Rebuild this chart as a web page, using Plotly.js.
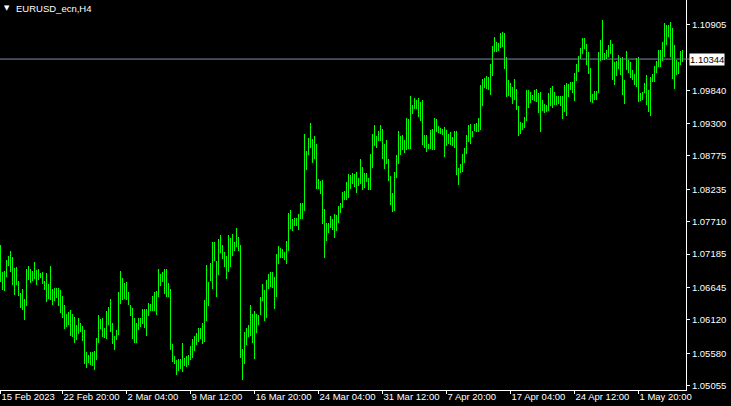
<!DOCTYPE html>
<html>
<head>
<meta charset="utf-8">
<script src="https://cdn.plot.ly/plotly-3.0.1.min.js"></script>
<style>
  html, body { margin: 0; padding: 0; background: #000; }
  #chart { width: 731px; height: 406px; }
</style>
</head>
<body>
<div id="chart"></div>
<script>
// ---- data (EURUSD_ecn, H4 bars: high / low) ----
const symbol = "EURUSD_ecn,H4";
const currentPrice = 1.10344;

const highs = [
  1.07333,1.06890,1.06912,1.07090,1.07155,1.07236,1.07139,1.06966,1.06977,1.06750,
  1.06555,1.06620,1.06458,1.06944,1.06993,1.06944,1.06917,1.07052,1.06928,1.06944,
  1.06879,1.06890,1.06750,1.06879,1.06701,1.06993,1.06620,1.06631,1.06636,1.06636,
  1.06604,1.06507,1.06361,1.06221,1.06242,1.06280,1.06215,1.06167,1.06037,1.06150,
  1.06069,1.06015,1.05956,1.05600,1.05551,1.05600,1.05605,1.05621,1.05826,1.06199,
  1.06134,1.06150,1.05988,1.06264,1.06329,1.06458,1.06069,1.05864,1.05956,1.06572,
  1.06912,1.06798,1.06712,1.06739,1.06572,1.06361,1.06312,1.06150,1.06064,1.06150,

  1.06156,1.06296,1.06296,1.06296,1.06393,1.06377,1.06507,1.06572,1.06588,1.06944,
  1.06863,1.06896,1.06944,1.06944,1.06717,1.06620,1.05735,1.05535,1.05470,1.05486,
  1.05486,1.05745,1.05502,1.05535,1.05551,1.05697,1.05810,1.05859,1.05907,1.05988,
  1.05988,1.06069,1.06442,1.07009,1.06734,1.07041,1.07382,1.07382,1.07074,1.07430,
  1.07495,1.07333,1.07220,1.07155,1.07495,1.07446,1.07511,1.07382,1.07608,1.07463,
  1.07333,1.05648,1.05924,1.05988,1.06037,1.06361,1.06215,1.06264,1.06215,1.06199,
  1.06491,1.06701,1.06604,1.06766,1.06863,1.06896,1.06896,1.06815,1.07187,1.07317,

  1.07285,1.07269,1.07220,1.07398,1.07856,1.07899,1.07753,1.07769,1.07769,1.07834,
  1.08018,1.08018,1.09130,1.08855,1.09065,1.09308,1.09049,1.09098,1.08968,1.08401,
  1.08369,1.08385,1.07915,1.07688,1.07694,1.07802,1.07753,1.07834,1.07818,1.07964,
  1.08012,1.08196,1.08207,1.08353,1.08482,1.08466,1.08498,1.08482,1.08515,1.08417,
  1.08725,1.08596,1.08498,1.08498,1.08417,1.08806,1.09130,1.09276,1.09098,1.09179,
  1.09276,1.09211,1.08968,1.09033,1.08725,1.08450,1.08174,1.08515,1.08790,1.09179,
  1.09098,1.09114,1.09033,1.09389,1.09373,1.09746,1.09600,1.09713,1.09681,1.09713,

  1.09648,1.09680,1.09113,1.09113,1.08967,1.09194,1.09210,1.09388,1.09372,1.09259,
  1.09226,1.09210,1.09243,1.09194,1.09129,1.09162,1.09081,1.09178,1.09178,1.08584,
  1.08649,1.08811,1.08908,1.09113,1.09275,1.09291,1.09178,1.09291,1.09307,1.09388,
  1.09923,1.10020,1.10036,1.10069,1.10053,1.10263,1.10555,1.10701,1.10620,1.10603,
  1.10765,1.10782,1.10765,1.10377,1.10004,1.09955,1.09891,1.10020,1.09858,1.09583,
  1.09324,1.09307,1.09405,1.09842,1.09842,1.09810,1.09761,1.09842,1.09858,1.09793,
  1.09810,1.09680,1.09615,1.09599,1.09793,1.09874,1.09907,1.09810,1.09745,1.09745,

  1.09745,1.09745,1.09923,1.09955,1.09939,1.09972,1.09972,1.10117,1.10263,1.10393,
  1.10522,1.10684,1.10684,1.10587,1.10458,1.10198,1.09777,1.09826,1.09826,1.10458,
  1.10652,1.10976,1.10441,1.10490,1.10571,1.10652,1.10587,1.10296,1.10312,1.10409,
  1.10360,1.10377,1.10004,1.10474,1.10328,1.10296,1.10166,1.10101,1.10360,1.10377,
  1.09793,1.09810,1.09955,1.10085,1.09842,1.10053,1.10101,1.10231,1.10312,1.10490,
  1.10490,1.10620,1.10927,1.10895,1.10895,1.10944,1.10846,1.10571,1.10328,1.10296,
  1.10474,1.10490
];

const lows = [
  1.06739,1.06604,1.06593,1.06820,1.06998,1.06890,1.06685,1.06523,1.06685,1.06507,
  1.06318,1.06280,1.06118,1.06350,1.06766,1.06723,1.06755,1.06782,1.06685,1.06766,
  1.06804,1.06701,1.06604,1.06415,1.06453,1.06437,1.06366,1.06431,1.06469,1.06350,
  1.06226,1.06156,1.05972,1.06005,1.06037,1.05864,1.05848,1.05751,1.05794,1.05891,
  1.05918,1.05772,1.05405,1.05346,1.05416,1.05389,1.05373,1.05308,1.05470,1.05751,
  1.05972,1.05837,1.05821,1.05805,1.06042,1.05929,1.05724,1.05632,1.05799,1.05875,
  1.06377,1.06447,1.06464,1.06437,1.06361,1.06183,1.05810,1.05751,1.05751,1.05951,

  1.06010,1.06053,1.05994,1.05864,1.06188,1.06264,1.06264,1.06264,1.06204,1.06496,
  1.06674,1.06739,1.06545,1.06496,1.06496,1.05637,1.05443,1.05411,1.05232,1.05297,
  1.05330,1.05281,1.05378,1.05362,1.05389,1.05475,1.05508,1.05621,1.05718,1.05767,
  1.05810,1.05735,1.05767,1.06107,1.06350,1.06750,1.06626,1.07079,1.06496,1.06852,
  1.07209,1.07112,1.06982,1.06788,1.06901,1.06982,1.07160,1.07241,1.07306,1.07241,
  1.05508,1.05151,1.05411,1.05718,1.05848,1.05864,1.05751,1.05492,1.05913,1.06042,
  1.06199,1.06431,1.06107,1.06156,1.06626,1.06658,1.06642,1.06302,1.06496,1.07025,

  1.07123,1.07123,1.07091,1.07026,1.07236,1.07597,1.07564,1.07645,1.07645,1.07580,
  1.07759,1.07759,1.07888,1.08552,1.08795,1.08903,1.08666,1.08725,1.08245,1.08245,
  1.08164,1.07678,1.07123,1.07402,1.07532,1.07602,1.07580,1.07451,1.07559,1.07694,
  1.07856,1.07937,1.08066,1.08066,1.08099,1.08245,1.08326,1.08277,1.08180,1.08293,
  1.08326,1.08228,1.08261,1.08358,1.08228,1.08228,1.08585,1.08936,1.08898,1.09017,
  1.09022,1.08731,1.08569,1.08644,1.08374,1.07980,1.07872,1.07888,1.08423,1.08644,
  1.08790,1.08871,1.08828,1.08871,1.08887,1.08893,1.09454,1.09535,1.09535,1.09406,

  1.09345,1.08956,1.08908,1.08843,1.08892,1.08892,1.08875,1.08875,1.09167,1.09151,
  1.09135,1.09118,1.08762,1.08940,1.08973,1.08956,1.08940,1.08908,1.08470,1.08308,
  1.08503,1.08519,1.08665,1.08811,1.09005,1.08967,1.09081,1.09178,1.09162,1.09162,
  1.09194,1.09588,1.09874,1.09864,1.09847,1.09766,1.10069,1.10458,1.10458,1.10479,
  1.10522,1.10539,1.10188,1.09734,1.09750,1.09734,1.09621,1.09680,1.09523,1.09097,
  1.09129,1.09199,1.09232,1.09345,1.09556,1.09637,1.09680,1.09664,1.09653,1.09475,
  1.09167,1.09496,1.09469,1.09486,1.09496,1.09583,1.09556,1.09599,1.09599,1.09621,

  1.09583,1.09372,1.09491,1.09426,1.09729,1.09842,1.09793,1.09664,1.09988,1.10134,
  1.10350,1.10425,1.10506,1.10252,1.10101,1.09648,1.09631,1.09680,1.09680,1.09793,
  1.10312,1.10328,1.10328,1.10344,1.10377,1.10425,1.10004,1.09923,1.10069,1.10182,
  1.10085,1.09761,1.09615,1.10166,1.10123,1.10036,1.10004,1.09923,1.09891,1.09648,
  1.09664,1.09680,1.09793,1.09599,1.09486,1.09421,1.09972,1.09972,1.10117,1.10215,
  1.10215,1.10312,1.10377,1.10571,1.10701,1.10377,1.10020,1.09858,1.10085,1.10101,
  1.10247,1.10296
];

const timeTickIndex = [0, 31, 63, 95, 127, 159, 191, 223, 255, 287, 319];
const timeTickLabels = ["15 Feb 2023","22 Feb 20:00","2 Mar 04:00","9 Mar 12:00","16 Mar 20:00",
  "24 Mar 04:00","31 Mar 12:00","7 Apr 20:00","17 Apr 04:00","24 Apr 12:00","1 May 20:00"];
const priceTicks = [1.10905, 1.09840, 1.09300, 1.08775, 1.08235, 1.07710,
  1.07185, 1.06645, 1.06120, 1.05580, 1.05055];
const priceRange = [1.04986, 1.11300];

// ---- build ----
const idx = highs.map((_, i) => i);
const ranges = highs.map((h, i) => h - lows[i]);

const trace = {
  type: 'bar',
  x: idx,
  y: ranges,
  base: lows,
  width: 0.5,
  marker: { color: '#00FF00', line: { width: 0 } },
  hoverinfo: 'skip'
};

const fontFam = '"Liberation Sans", Arial, sans-serif';

const layout = {
  width: 731, height: 406,
  paper_bgcolor: '#000000',
  plot_bgcolor: '#000000',
  margin: { l: 0, r: 45, t: 0, b: 16, pad: 0 },
  showlegend: false,
  bargap: 0,
  font: { family: fontFam, size: 9.5, color: '#ffffff' },
  xaxis: {
    range: [-0.25, 342.75],
    showgrid: false, zeroline: false,
    showline: true, linecolor: '#ffffff', linewidth: 1,
    tickmode: 'array', tickvals: timeTickIndex, ticktext: timeTickLabels,
    tickangle: 0,
    automargin: false,
    ticks: 'outside', ticklen: 3, tickcolor: '#ffffff', tickwidth: 1,
    ticklabelposition: 'outside right',
    ticklabelstandoff: -2,
    tickfont: { family: fontFam, size: 9.5, color: '#ffffff' },
    fixedrange: true
  },
  yaxis: {
    side: 'right',
    range: priceRange,
    showgrid: false, zeroline: false,
    showline: true, linecolor: '#ffffff', linewidth: 1,
    tickmode: 'array', tickvals: priceTicks,
    ticktext: priceTicks.map(v => v.toFixed(5)),
    automargin: false,
    ticks: 'outside', ticklen: 3, tickcolor: '#ffffff', tickwidth: 1,
    tickfont: { family: fontFam, size: 9.5, color: '#ffffff' },
    fixedrange: true
  },
  shapes: [
    { type: 'line', xref: 'paper', x0: 0, x1: 1.006, yref: 'y', y0: currentPrice, y1: currentPrice,
      line: { color: '#7f8fa6', width: 1 } }
  ],
  annotations: [
    { xref: 'paper', yref: 'y', x: 1, y: currentPrice, xanchor: 'left', yanchor: 'middle',
      xshift: 3, text: currentPrice.toFixed(5), showarrow: false,
      bgcolor: '#ffffff', borderpad: 0,
      font: { family: fontFam, size: 9.5, color: '#000000' } },
    { xref: 'paper', yref: 'paper', x: 0, y: 1, xanchor: 'left', yanchor: 'top',
      xshift: 2, yshift: -2, text: '▼', showarrow: false,
      font: { family: '"DejaVu Sans", sans-serif', size: 7, color: '#ffffff' } },
    { xref: 'paper', yref: 'paper', x: 0, y: 1, xanchor: 'left', yanchor: 'top',
      xshift: 14, yshift: -1, text: symbol, showarrow: false,
      font: { family: fontFam, size: 9.5, color: '#ffffff' } }
  ]
};

Plotly.newPlot('chart', [trace], layout, { displayModeBar: false, staticPlot: true });
</script>
</body>
</html>
